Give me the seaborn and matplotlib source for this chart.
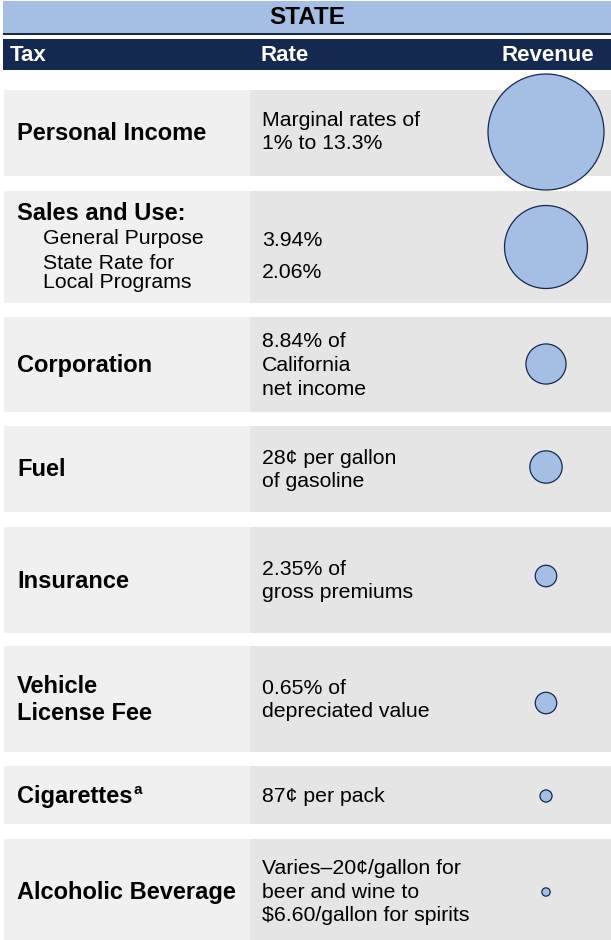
import matplotlib
matplotlib.use("Agg")
import matplotlib.pyplot as plt
from matplotlib.patches import Rectangle
import seaborn as sns
import pandas as pd

# ---------------- data ----------------
taxes = ["Personal Income", "Sales and Use:", "Corporation", "Fuel", "Insurance",
         "Vehicle\nLicense Fee", "Cigarettes", "Alcoholic Beverage"]
rates = ["Marginal rates of\n1% to 13.3%", "", "8.84% of\nCalifornia\nnet income",
         "28¢ per gallon\nof gasoline", "2.35% of\ngross premiums",
         "0.65% of\ndepreciated value", "87¢ per pack",
         "Varies–20¢/gallon for\nbeer and wine to\n\\$6.60/gallon for spirits"]
sales_sub_labels = ["General Purpose", "State Rate for\nLocal Programs"]
sales_sub_rates = ["3.94%", "2.06%"]
revenue = [64.3, 32.9, 7.7, 5.0, 2.2, 2.2, 0.7, 0.33]   # billions (bubble area)
title = "STATE"
headers = ["Tax", "Rate", "Revenue"]
footnote_mark = "a"

# ---------------- layout ----------------
W, H = 611, 940
row_top = [90, 191, 317, 426, 527, 646, 766, 839]
row_bot = [176, 303, 412, 512, 633, 752, 824, 940]
split_x = 250
bubble_x = 546
LIGHT_BLUE = "#a4bfe3"
NAVY = "#13294f"
LEFT_BG = "#f0f0f0"
RIGHT_BG = "#e5e5e5"

plt.rcParams["font.family"] = ["Liberation Sans", "DejaVu Sans"]

fig = plt.figure(figsize=(W / 100, H / 100), dpi=100)
ax = fig.add_axes([0, 0, 1, 1])
ax.set_xlim(0, W)
ax.set_ylim(H, 0)
ax.axis("off")

# title band
ax.add_patch(Rectangle((3, 1), W - 3, 32, facecolor=LIGHT_BLUE, edgecolor="none"))
ax.add_patch(Rectangle((3, 33), W - 3, 2, facecolor=NAVY, edgecolor="none"))
ax.text(W / 2 + 2, 18, title, ha="center", va="center", fontsize=17.5,
        fontweight="bold", color="black")

# header band
ax.add_patch(Rectangle((3, 39), W - 3, 31, facecolor=NAVY, edgecolor="none"))
hy = 55.5
ax.text(10, hy, headers[0], ha="left", va="center", fontsize=16, fontweight="bold", color="white")
ax.text(261, hy, headers[1], ha="left", va="center", fontsize=16, fontweight="bold", color="white")
ax.text(594, hy, headers[2], ha="right", va="center", fontsize=16, fontweight="bold", color="white")

# rows
centers = []
for i, (t, b) in enumerate(zip(row_top, row_bot)):
    ax.add_patch(Rectangle((4, t), split_x - 4, b - t, facecolor=LEFT_BG, edgecolor="none"))
    ax.add_patch(Rectangle((split_x, t), W - split_x, b - t, facecolor=RIGHT_BG, edgecolor="none"))
    centers.append((t + b) / 2)

label_y = [c + 1 for c in centers]
label_y[7] = 893
rate_y = [c + 1 for c in centers]
rate_y[0] = 132
rate_y[7] = 892

for i, lab in enumerate(taxes):
    if i == 1:
        ax.text(17, 213, lab, ha="left", va="center", fontsize=17, fontweight="bold")
        continue
    txt = ax.text(17, label_y[i], lab, ha="left", va="center", fontsize=17,
                  fontweight="bold", linespacing=1.17)
    if lab == "Cigarettes":
        fig.canvas.draw()
        bb = txt.get_window_extent().transformed(ax.transData.inverted())
        ax.text(bb.x1 + 1, label_y[i] - 6, footnote_mark, ha="left", va="center",
                fontsize=11, fontweight="bold")

for i, r in enumerate(rates):
    if r:
        ax.text(262, rate_y[i], r, ha="left", va="center", fontsize=15.3, linespacing=1.32)

# sales sub-rows
ax.text(43, 238, sales_sub_labels[0], ha="left", va="center", fontsize=15.3)
ax.text(43, 273, sales_sub_labels[1], ha="left", va="center", fontsize=15.3, linespacing=0.95)
ax.text(262, 240, sales_sub_rates[0], ha="left", va="center", fontsize=15.3)
ax.text(262, 272, sales_sub_rates[1], ha="left", va="center", fontsize=15.3)

# bubbles
bub_y = [132, 247, 364, 467, 576, 703, 796, 892]
df = pd.DataFrame({"x": [bubble_x] * len(revenue), "y": bub_y, "rev": revenue})
smax = (0.72 * 116) ** 2
sns.scatterplot(data=df, x="x", y="y", size="rev", sizes=(0, smax),
                size_norm=(0, max(revenue)), color=LIGHT_BLUE, edgecolor=NAVY,
                linewidth=0.9, legend=False, ax=ax, zorder=5)
ax.set_xlim(0, W)
ax.set_ylim(H, 0)
ax.axis("off")

fig.savefig("out.png", dpi=100)
